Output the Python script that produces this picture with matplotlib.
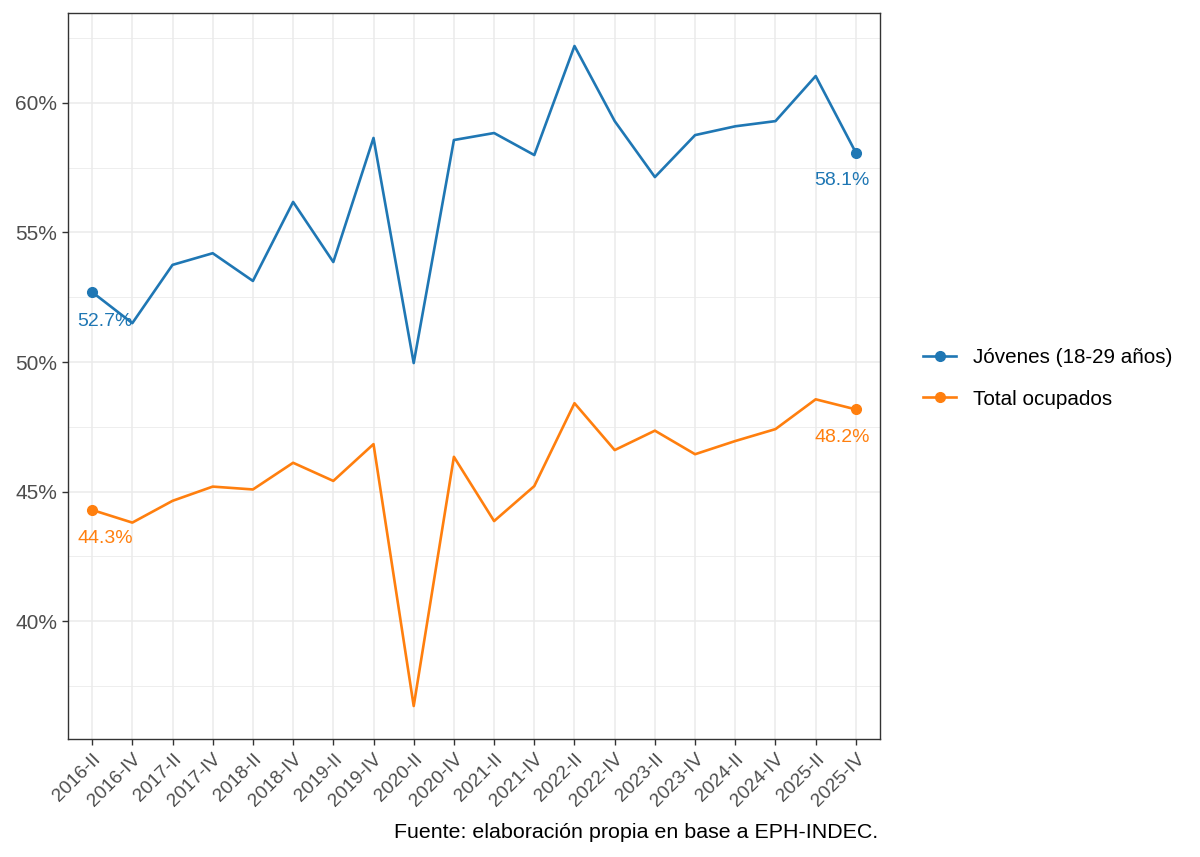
import matplotlib.pyplot as plt
import numpy as np

plt.rcParams['font.family'] = ['Liberation Sans', 'DejaVu Sans']

periodos = ["2016-II", "2016-IV", "2017-II", "2017-IV", "2018-II", "2018-IV",
            "2019-II", "2019-IV", "2020-II", "2020-IV", "2021-II", "2021-IV",
            "2022-II", "2022-IV", "2023-II", "2023-IV", "2024-II", "2024-IV",
            "2025-II", "2025-IV"]

jovenes = [52.7, 51.5, 53.75, 54.2, 53.13, 56.18, 53.86, 58.65, 49.96, 58.57,
           58.84, 57.99, 62.2, 59.3, 57.14, 58.76, 59.1, 59.3, 61.04, 58.08]

total = [44.29, 43.8, 44.64, 45.19, 45.08, 46.11, 45.41, 46.83, 36.72, 46.34,
         43.86, 45.21, 48.41, 46.6, 47.35, 46.44, 46.95, 47.41, 48.56, 48.17]

series = ["Jóvenes (18-29 años)", "Total ocupados"]
colores = ["#1F77B4", "#FF7F0E"]

fig = plt.figure(figsize=(12, 8.57), dpi=100)
ax = fig.add_axes([68 / 1200, 1 - 739 / 857, 812 / 1200, 726 / 857])

x = np.arange(len(periodos))
for vals, nombre, col in zip([jovenes, total], series, colores):
    ax.plot(x, vals, color=col, lw=1.9, zorder=3)
    # puntos solo en extremos
    ax.plot([x[0], x[-1]], [vals[0], vals[-1]], "o", color=col, ms=7, zorder=4)
    ax.plot([], [], "-o", color=col, lw=1.9, ms=7, label=nombre)
    ax.annotate(f"{vals[0]:.1f}%", (x[0], vals[0]), xytext=(13, -29),
                textcoords="offset pixels", ha="center", va="center",
                color=col, fontsize=14)
    ax.annotate(f"{vals[-1]:.1f}%", (x[-1], vals[-1]), xytext=(-14, -28),
                textcoords="offset pixels", ha="center", va="center",
                color=col, fontsize=14)

lo = min(total + jovenes)
hi = max(total + jovenes)
pad = (hi - lo) * 0.05
ax.set_ylim(lo - pad, hi + pad)
ax.set_xlim(-0.6, len(periodos) - 0.4)

ax.set_yticks([40, 45, 50, 55, 60])
ax.set_yticklabels(["40%", "45%", "50%", "55%", "60%"])
ax.set_yticks([37.5, 42.5, 47.5, 52.5, 57.5, 62.5], minor=True)
ax.set_xticks(x)
ax.set_xticklabels(periodos, rotation=45, ha="right", va="top",
                   rotation_mode="anchor")

ax.grid(True, which="major", color="#EBEBEB", lw=1.1, zorder=0)
ax.grid(True, which="minor", axis="y", color="#EBEBEB", lw=0.6, zorder=0)
ax.set_axisbelow(True)
ax.tick_params(which="major", length=4.4, width=1, color="#333333",
               labelcolor="#4D4D4D")
ax.tick_params(axis="y", pad=3.5, labelsize=15)
ax.tick_params(axis="x", pad=4, labelsize=13.8)
ax.tick_params(which="minor", length=0)
for s in ax.spines.values():
    s.set_color("#333333")
    s.set_linewidth(1)

ax.legend(loc="center left", bbox_to_anchor=(1.03, 0.497), frameon=False,
          fontsize=14.9, handlelength=1.6, labelspacing=1.1, handletextpad=0.8)

fig.text(878 / 1200, 1 - 832 / 857, "Fuente: elaboración propia en base a EPH-INDEC.",
         ha="right", va="center", fontsize=15.4, color="black")

fig.savefig("out.png", dpi=100)
